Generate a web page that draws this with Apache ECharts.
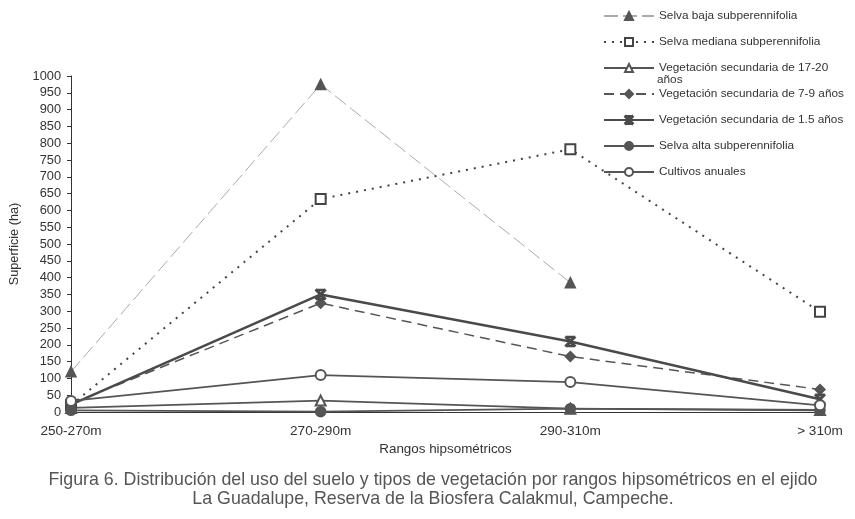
<!DOCTYPE html>
<html><head><meta charset="utf-8">
<script src="https://cdn.jsdelivr.net/npm/echarts@6/dist/echarts.min.js"></script>
<style>html,body{margin:0;padding:0;background:#fff}#c{width:855px;height:519px}</style>
</head><body><div id="c"></div>
<script>
const categories = ['250-270m', '270-290m', '290-310m', '> 310m'];
const selvaBaja = [120, 975, 385, null];
const selvaMediana = [20, 634, 782, 298];
const vegSec1720 = [12, 34, 10, 6];
const vegSec79 = [25, 324, 165, 67];
const vegSec15 = [22, 350, 210, 38];
const selvaAlta = [5, 1, 10, 5];
const cultivos = [33, 110, 89, 20];
const yTicks = {min: 0, max: 1000, interval: 50};

const font = 'Liberation Sans, Arial, sans-serif';
const X_PATH = 'path://M0,1 L1,0 L5,4 L9,0 L10,1 L6,5 L10,9 L9,10 L5,6 L1,10 L0,9 L4,5 Z M1,0 L9,0 L9,1.2 L1,1.2 Z M1,8.8 L9,8.8 L9,10 L1,10 Z';

function line(name, data, color, lineType, width, symbol, symColor, symSize, extra) {
  return Object.assign({
    name, type: 'line', data,
    symbol, symbolSize: symSize,
    connectNulls: false,
    lineStyle: {color, type: lineType, width},
    itemStyle: {color: symColor, borderColor: symColor, borderWidth: 1.5},
    emphasis: {disabled: true},
    z: 2
  }, extra || {});
}

const chart = echarts.init(document.getElementById('c'), null, {renderer: 'canvas'});
chart.setOption({
  animation: false,
  textStyle: {fontFamily: font},
  grid: {left: 65, right: 35, top: 76, bottom: 107},
  legend: {
    orient: 'vertical', left: 603, top: 10, padding: 0,
    itemWidth: 50, itemHeight: 10, itemGap: 14,
    textStyle: {fontFamily: font, fontSize: 11.8, color: '#333'},
    data: ['Selva baja subperennifolia','Selva mediana subperennifolia','Vegetación secundaria de 17-20',
           'Vegetación secundaria de 7-9 años','Vegetación secundaria de 1.5 años','Selva alta subperennifolia','Cultivos anuales']
  },
  xAxis: {
    type: 'category', data: categories, boundaryGap: false,
    name: 'Rangos hipsométricos', nameLocation: 'middle', nameGap: 23,
    nameTextStyle: {fontSize: 13.4, color: '#333', fontFamily: font},
    axisLine: {lineStyle: {color: '#333', width: 1}},
    axisTick: {show: false},
    axisLabel: {fontSize: 13.6, color: '#333', margin: 12, fontFamily: font}
  },
  yAxis: {
    type: 'value', min: yTicks.min, max: yTicks.max, interval: yTicks.interval,
    name: 'Superficie (ha)', nameLocation: 'middle', nameGap: 50,
    nameTextStyle: {fontSize: 12.7, color: '#333', fontFamily: font},
    axisLine: {show: true, lineStyle: {color: '#333', width: 1}},
    axisTick: {show: true, length: 4, lineStyle: {color: '#333'}},
    splitLine: {show: false},
    axisLabel: {fontSize: 12.8, color: '#333', margin: 10, fontFamily: font, formatter: v => String(v)}
  },
  graphic: [
    {type: 'text', left: 657, top: 74, style: {text: 'años', font: '11.8px ' + font, fill: '#333'}},
    {type: 'text', x: 433, y: 471, style: {
      text: 'Figura 6. Distribución del uso del suelo y tipos de vegetación por rangos hipsométricos en el ejido\nLa Guadalupe, Reserva de la Biosfera Calakmul, Campeche.',
      font: '17.8px ' + font, fill: '#555', align: 'center', verticalAlign: 'top', lineHeight: 19}}
  ],
  series: [
    line('Selva baja subperennifolia', selvaBaja, '#aaa', [14, 5], 1, 'triangle', '#555', 10),
    line('Selva mediana subperennifolia', selvaMediana, '#444', [2, 6], 2, 'emptyRect', '#444', 10),
    line('Vegetación secundaria de 17-20', vegSec1720, '#555', 'solid', 1.8, 'emptyTriangle', '#555', 10),
    line('Vegetación secundaria de 7-9 años', vegSec79, '#555', [10, 6], 1.5, 'diamond', '#555', 10),
    line('Vegetación secundaria de 1.5 años', vegSec15, '#4a4a4a', 'solid', 2.5, X_PATH, '#4a4a4a', 10),
    line('Selva alta subperennifolia', selvaAlta, '#555', 'solid', 1.8, 'circle', '#555', 10),
    line('Cultivos anuales', cultivos, '#555', 'solid', 1.8, 'emptyCircle', '#555', 10)
  ]
});
</script></body></html>
